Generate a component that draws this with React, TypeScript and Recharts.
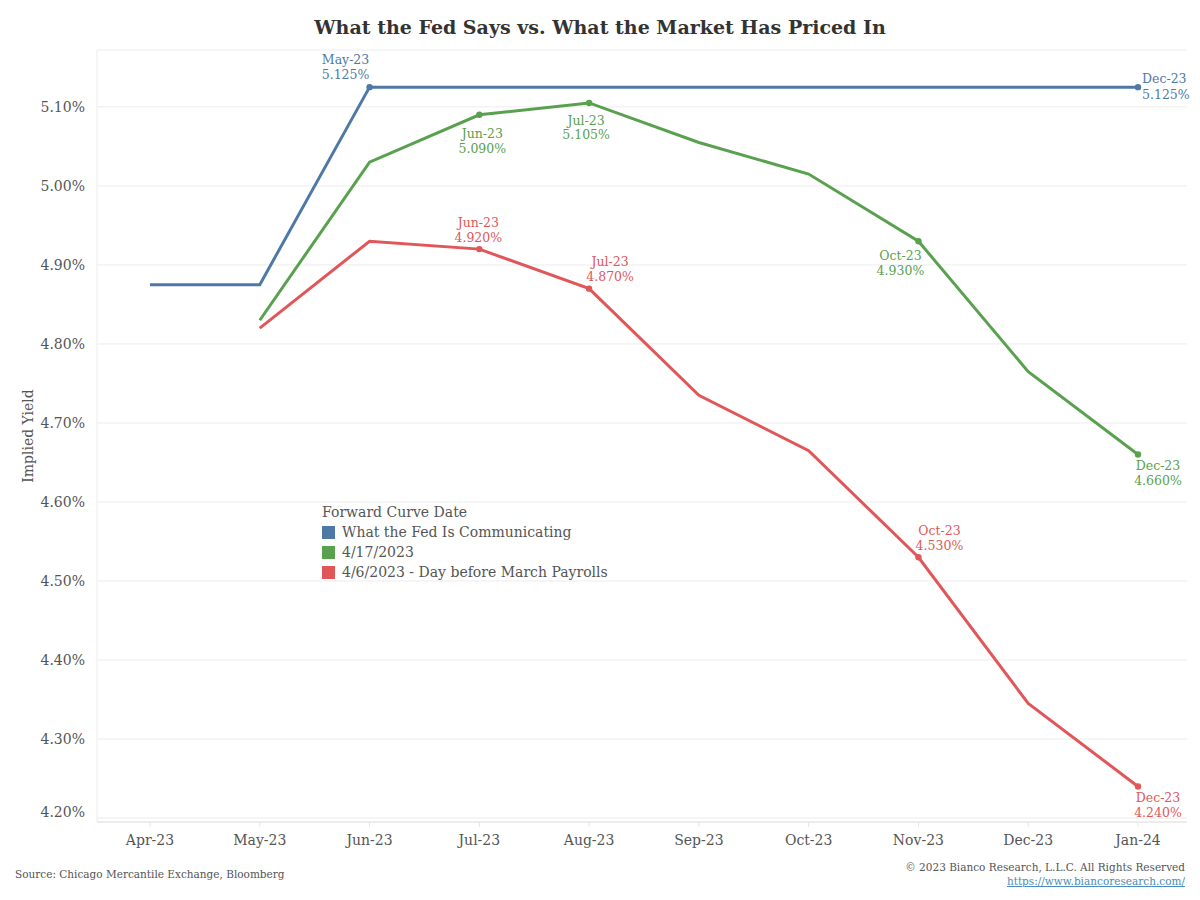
import React from "react";
import { LineChart, Line, XAxis, YAxis, CartesianGrid, LabelList } from "recharts";

const months = ["Apr-23", "May-23", "Jun-23", "Jul-23", "Aug-23", "Sep-23", "Oct-23", "Nov-23", "Dec-23", "Jan-24"];
const fedValues: (number | null)[] = [4.875, 4.875, 5.125, 5.125, 5.125, 5.125, 5.125, 5.125, 5.125, 5.125];
const apr17Values: (number | null)[] = [null, 4.83, 5.03, 5.09, 5.105, 5.055, 5.015, 4.93, 4.765, 4.66];
const apr6Values: (number | null)[] = [null, 4.82, 4.93, 4.92, 4.87, 4.735, 4.665, 4.53, 4.345, 4.24];
const fedNotes: (string | null)[] = [null, null, "May-23", null, null, null, null, null, null, "Dec-23"];
const apr17Notes: (string | null)[] = [null, null, null, "Jun-23", "Jul-23", null, null, "Oct-23", null, "Dec-23"];
const apr6Notes: (string | null)[] = [null, null, null, "Jun-23", "Jul-23", null, null, "Oct-23", null, "Dec-23"];
const yTicks = [4.2, 4.3, 4.4, 4.5, 4.6, 4.7, 4.8, 4.9, 5.0, 5.1];
const seriesNames = ["What the Fed Is Communicating", "4/17/2023", "4/6/2023 - Day before March Payrolls"];

const BLUE = "#4e79a7";
const GREEN = "#59a14f";
const RED = "#e15759";
const FONT = "'DejaVu Serif', 'Liberation Serif', serif";
const TEXT = "#555555";

const data = months.map((m, i) => ({
  month: m,
  fed: fedValues[i],
  apr17: apr17Values[i],
  apr6: apr6Values[i],
}));

type Place = { dx: number; dy1: number; dy2: number; anchor: "start" | "middle" | "end" };
const fedPlace: Record<number, Place> = {
  2: { dx: -24, dy1: -28, dy2: -13, anchor: "middle" },
  9: { dx: 4, dy1: -9, dy2: 7, anchor: "start" },
};
const apr17Place: Record<number, Place> = {
  3: { dx: 3, dy1: 19, dy2: 34, anchor: "middle" },
  4: { dx: -3, dy1: 18, dy2: 32, anchor: "middle" },
  7: { dx: -18, dy1: 14, dy2: 29, anchor: "middle" },
  9: { dx: 20, dy1: 11, dy2: 26, anchor: "middle" },
};
const apr6Place: Record<number, Place> = {
  3: { dx: -1, dy1: -27, dy2: -12, anchor: "middle" },
  4: { dx: 21, dy1: -27, dy2: -12, anchor: "middle" },
  7: { dx: 21, dy1: -27, dy2: -12, anchor: "middle" },
  9: { dx: 20, dy1: 11, dy2: 26, anchor: "middle" },
};

const makeDot = (notes: (string | null)[], color: string) => (props: any) => {
  const { cx, cy, index } = props;
  if (!notes[index] || cx == null || cy == null) return <g key={`d${index}`} />;
  return <circle key={`d${index}`} cx={cx} cy={cy} r={3.2} fill={color} stroke="none" />;
};

const makeLabel = (notes: (string | null)[], values: (number | null)[], place: Record<number, Place>, color: string) =>
  (props: any) => {
    const { x, y, index } = props;
    const note = notes[index];
    const p = place[index];
    const v = values[index];
    if (!note || !p || v == null) return null;
    return (
      <g key={`l${index}`}>
        <text x={x + p.dx} y={y + p.dy1} textAnchor={p.anchor} dominantBaseline="central" fill={color} fontSize={12.5} fontFamily={FONT}>
          {note}
        </text>
        <text x={x + p.dx} y={y + p.dy2} textAnchor={p.anchor} dominantBaseline="central" fill={color} fontSize={12.5} fontFamily={FONT}>
          {v.toFixed(3)}%
        </text>
      </g>
    );
  };

const YTick = (props: any) => {
  const { x, y, payload, index } = props;
  const shift = index === 0 ? -6 : 0;
  return (
    <text x={x} y={y + shift} textAnchor="end" dominantBaseline="central" fill={TEXT} fontSize={14} fontFamily={FONT}>
      {`${Number(payload.value).toFixed(2)}%`}
    </text>
  );
};

const LegendBox = () => {
  const colors = [BLUE, GREEN, RED];
  return (
    <div style={{ fontFamily: FONT, color: TEXT, fontSize: 14, lineHeight: "20px" }}>
      <div>Forward Curve Date</div>
      {seriesNames.map((n, i) => (
        <div key={n} style={{ display: "flex", alignItems: "center" }}>
          <span style={{ display: "inline-block", width: 13, height: 13, background: colors[i], marginRight: 7 }} />
          <span>{n}</span>
        </div>
      ))}
    </div>
  );
};

export default function App() {
  return (
    <div style={{ position: "absolute", left: 0, top: 0, width: 1200, height: 900, background: "#fff", fontFamily: FONT }}>
      <div style={{ position: "absolute", left: 0, top: 16, width: 1200, textAlign: "center", fontSize: 19, fontWeight: "bold", color: "#333", fontFamily: FONT }}>
        What the Fed Says vs. What the Market Has Priced In
      </div>
      <div style={{ position: "absolute", left: 0, top: 0 }}>
        <LineChart width={1200} height={900} data={data} margin={{ top: 50, right: 13, bottom: 48, left: 0 }}>
          <CartesianGrid vertical={false} stroke="#ececec" />
          <XAxis
            dataKey="month"
            height={30}
            padding={{ left: 53, right: 49 }}
            tick={{ fill: TEXT, fontSize: 14, fontFamily: FONT }}
            axisLine={{ stroke: "#e4e4e4" }}
            tickLine={{ stroke: "#e4e4e4" }}
            tickSize={5}
            tickMargin={8}
          />
          <YAxis
            width={97}
            domain={[4.195, 5.172]}
            ticks={yTicks}
            type="number"
            allowDataOverflow
            tick={<YTick />}
            axisLine={{ stroke: "#ececec" }}
            tickLine={false}
            tickMargin={6}
            label={{ value: "Implied Yield", angle: -90, position: "insideLeft", offset: 28, style: { fill: TEXT, fontSize: 14, fontFamily: FONT, textAnchor: "middle" } }}
          />
          <Line type="linear" dataKey="fed" name={seriesNames[0]} stroke={BLUE} strokeWidth={3} dot={makeDot(fedNotes, BLUE)} activeDot={false} isAnimationActive={false}>
            <LabelList dataKey="fed" content={makeLabel(fedNotes, fedValues, fedPlace, BLUE)} />
          </Line>
          <Line type="linear" dataKey="apr17" name={seriesNames[1]} stroke={GREEN} strokeWidth={3} dot={makeDot(apr17Notes, GREEN)} activeDot={false} isAnimationActive={false}>
            <LabelList dataKey="apr17" content={makeLabel(apr17Notes, apr17Values, apr17Place, GREEN)} />
          </Line>
          <Line type="linear" dataKey="apr6" name={seriesNames[2]} stroke={RED} strokeWidth={3} dot={makeDot(apr6Notes, RED)} activeDot={false} isAnimationActive={false}>
            <LabelList dataKey="apr6" content={makeLabel(apr6Notes, apr6Values, apr6Place, RED)} />
          </Line>
        </LineChart>
      </div>
      <div style={{ position: "absolute", left: 322, top: 502, width: 320 }}>
        <LegendBox />
      </div>
      <div style={{ position: "absolute", left: 15, top: 868, fontSize: 10.5, color: TEXT, fontFamily: FONT }}>
        Source: Chicago Mercantile Exchange, Bloomberg
      </div>
      <div style={{ position: "absolute", right: 15, top: 860, fontSize: 10.5, color: TEXT, fontFamily: FONT, textAlign: "right", lineHeight: "14px" }}>
        <div>© 2023 Bianco Research, L.L.C. All Rights Reserved</div>
        <div style={{ color: "#4a8db7", textDecoration: "underline" }}>https://www.biancoresearch.com/</div>
      </div>
    </div>
  );
}
